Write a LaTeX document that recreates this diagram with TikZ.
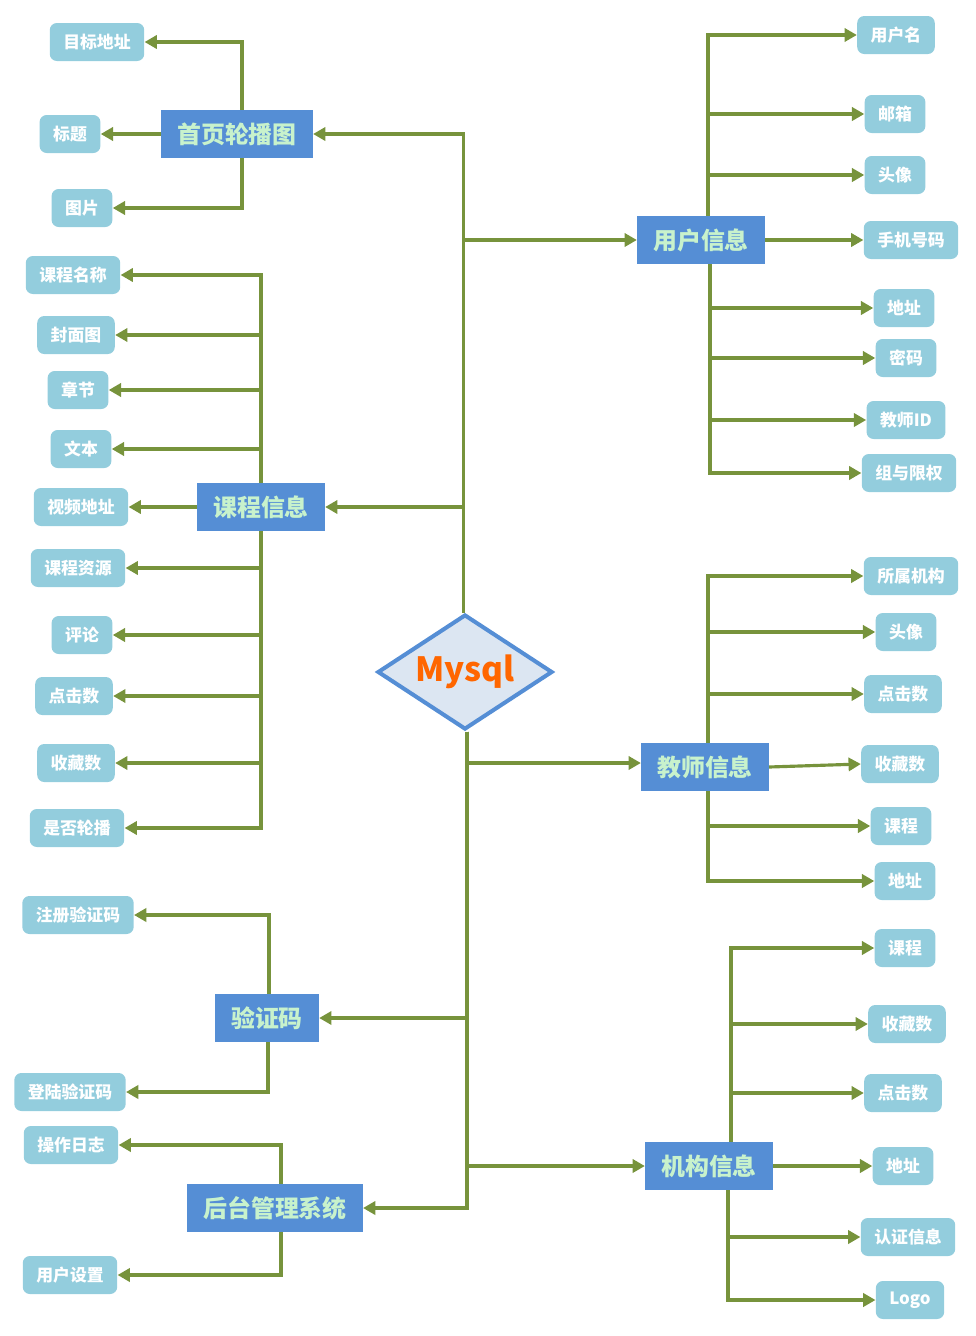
\documentclass[tikz,border=0pt]{standalone}
\usepackage{fontspec}
\usepackage{xcolor}
\usepackage{tikz}
\usetikzlibrary{positioning,arrows.meta,shapes.geometric}
\newfontfamily\cjk{Noto Sans CJK SC}
\definecolor{DBleaf}{HTML}{93CDDD}
\definecolor{DBmain}{HTML}{558ED5}
\definecolor{DBmint}{HTML}{C8F2CC}
\definecolor{DBline}{HTML}{77933C}
\definecolor{DBpale}{HTML}{DCE6F2}
\definecolor{DBorange}{HTML}{FF6600}
\tikzset{
  leafbox/.style={rounded corners=4pt, fill=DBleaf, text=white, align=center, minimum height=0.76cm, inner xsep=0.27cm, font=\cjk\bfseries\fontsize{9.6}{11}\selectfont},
  mainbox/.style={fill=DBmain, text=DBmint, align=center, minimum height=0.96cm, inner xsep=0.32cm, font=\cjk\bfseries\fontsize{13.6}{15}\selectfont},
  dbnode/.style={diamond, aspect=1.5, draw=DBmain, line width=2.3pt, fill=DBpale, minimum width=3.5cm, minimum height=2.3cm, inner sep=0pt, text=DBorange, font=\cjk\bfseries\fontsize{19}{21}\selectfont},
  conn/.style={-{Triangle[length=7pt,width=7.5pt]}, line width=1.8pt, draw=DBline}
}
\begin{document}
\begin{tikzpicture}[x=0.02cm,y=-0.02cm]
\useasboundingbox (0,0) rectangle (975,1336);
\node[dbnode] (db) at (465,672) {Mysql};
\node[mainbox] (lunbo) at (237,134) {首页轮播图};
\node[mainbox] (user) at (701,240) {用户信息};
\node[mainbox] (course) at (261,507) {课程信息};
\node[mainbox] (teacher) at (705,767) {教师信息};
\node[mainbox] (vcode) at (267,1018) {验证码};
\node[mainbox] (org) at (709,1166) {机构信息};
\node[mainbox] (admin) at (275,1208) {后台管理系统};
\node[leafbox] (l1) at (97,42) {目标地址};
\node[leafbox] (l2) at (70,134) {标题};
\node[leafbox] (l3) at (82,208) {图片};
\node[leafbox] (u1) at (896,35) {用户名};
\node[leafbox] (u2) at (895,114) {邮箱};
\node[leafbox] (u3) at (895,175) {头像};
\node[leafbox] (u4) at (911,240) {手机号码};
\node[leafbox] (u5) at (904,308) {地址};
\node[leafbox] (u6) at (906,358) {密码};
\node[leafbox] (u7) at (906,420) {教师ID};
\node[leafbox] (u8) at (909,473) {组与限权};
\node[leafbox] (c1) at (73,275) {课程名称};
\node[leafbox] (c2) at (76,335) {封面图};
\node[leafbox] (c3) at (78,390) {章节};
\node[leafbox] (c4) at (81,449) {文本};
\node[leafbox] (c5) at (81,507) {视频地址};
\node[leafbox] (c6) at (78,568) {课程资源};
\node[leafbox] (c7) at (82,635) {评论};
\node[leafbox] (c8) at (74,696) {点击数};
\node[leafbox] (c9) at (76,763) {收藏数};
\node[leafbox] (c10) at (77,828) {是否轮播};
\node[leafbox] (t1) at (911,576) {所属机构};
\node[leafbox] (t2) at (906,632) {头像};
\node[leafbox] (t3) at (903,694) {点击数};
\node[leafbox] (t4) at (900,764) {收藏数};
\node[leafbox] (t5) at (901,826) {课程};
\node[leafbox] (t6) at (905,881) {地址};
\node[leafbox] (v1) at (78,915) {注册验证码};
\node[leafbox] (v2) at (70,1092) {登陆验证码};
\node[leafbox] (m1) at (71,1145) {操作日志};
\node[leafbox] (m2) at (70,1275) {用户设置};
\node[leafbox] (o1) at (905,948) {课程};
\node[leafbox] (o2) at (907,1024) {收藏数};
\node[leafbox] (o3) at (903,1093) {点击数};
\node[leafbox] (o4) at (903,1166) {地址};
\node[leafbox] (o5) at (908,1237) {认证信息};
\node[leafbox] (o6) at (910,1300) {Logo};
\draw[conn] ([xshift=-0.03cm]db.north) |- (lunbo.east);
\draw[conn] ([xshift=-0.03cm]db.north) |- (user.west);
\draw[conn] ([xshift=-0.03cm]db.north) |- (course.east);
\draw[conn] ([xshift=0.04cm]db.south) |- ([yshift=0.08cm]teacher.west);
\draw[conn] ([xshift=0.04cm]db.south) |- (vcode.east);
\draw[conn] ([xshift=0.04cm]db.south) |- (org.west);
\draw[conn] ([xshift=0.04cm]db.south) |- (admin.east);
\draw[conn] ([xshift=0.1cm]lunbo.north) |- (l1.east);
\draw[conn] (lunbo.west) -- (l2.east);
\draw[conn] ([xshift=0.1cm]lunbo.south) |- (l3.east);
\foreach \n in {u1,u2,u3}
  \draw[conn] ([xshift=0.14cm]user.north) |- (\n.west);
\draw[conn] (user.east) -- (u4.west);
\foreach \n in {u5,u6,u7,u8}
  \draw[conn] ([xshift=0.18cm]user.south) |- (\n.west);
\foreach \n in {c1,c2,c3,c4}
  \draw[conn] (course.north) |- (\n.east);
\draw[conn] (course.west) -- (c5.east);
\foreach \n in {c6,c7,c8,c9,c10}
  \draw[conn] (course.south) |- (\n.east);
\foreach \n in {t1,t2,t3}
  \draw[conn] ([xshift=0.06cm]teacher.north) |- (\n.west);
\draw[conn] (teacher.east) -- (t4.west);
\foreach \n in {t5,t6}
  \draw[conn] ([xshift=0.06cm]teacher.south) |- (\n.west);
\draw[conn] ([xshift=0.04cm]vcode.north) |- (v1.east);
\draw[conn] ([xshift=0.02cm]vcode.south) |- (v2.east);
\draw[conn] ([xshift=0.12cm]admin.north) |- (m1.east);
\draw[conn] ([xshift=0.12cm]admin.south) |- (m2.east);
\foreach \n in {o1,o2,o3}
  \draw[conn] ([xshift=0.44cm]org.north) |- (\n.west);
\draw[conn] (org.east) -- (o4.west);
\foreach \n in {o5,o6}
  \draw[conn] ([xshift=0.38cm]org.south) |- (\n.west);
\end{tikzpicture}
\end{document}
